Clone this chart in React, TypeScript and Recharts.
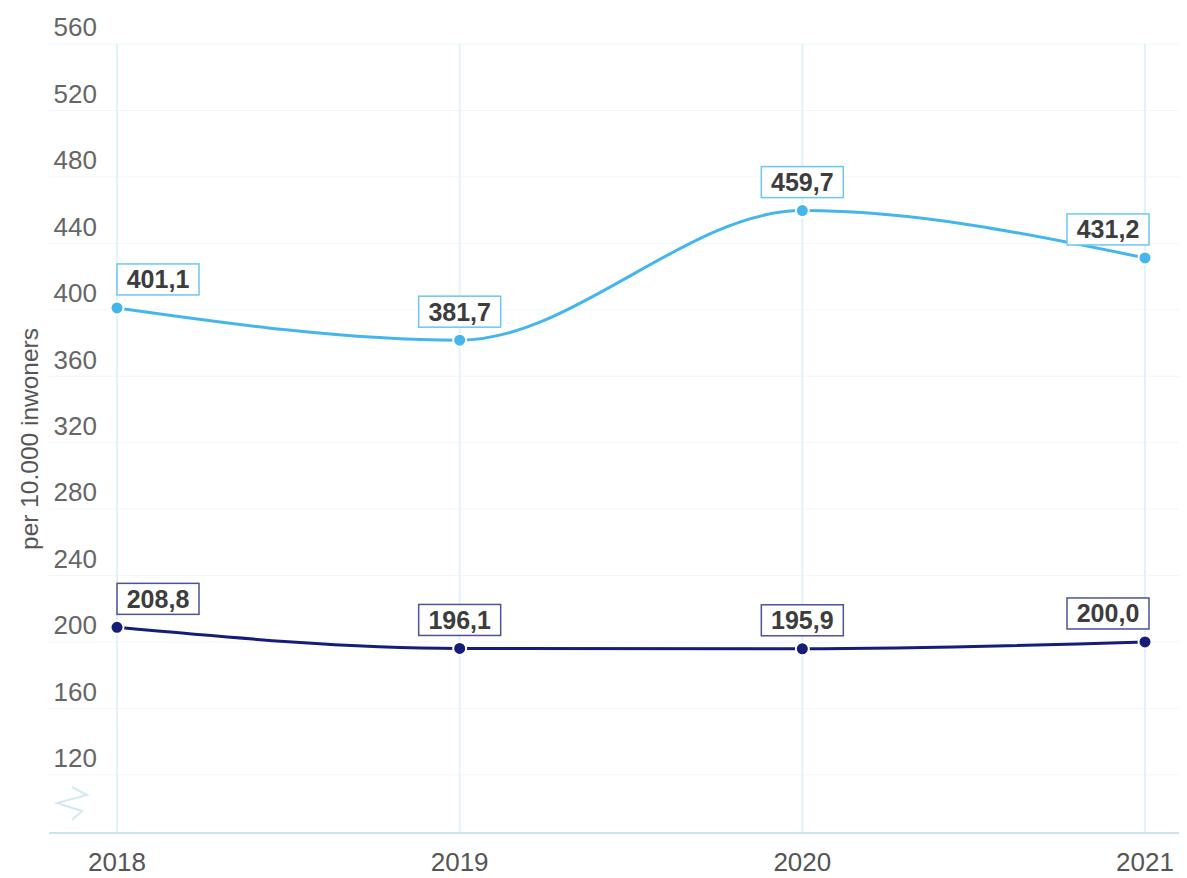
import React from "react";
import { LabelList, Line, LineChart, ReferenceLine, XAxis, YAxis } from "recharts";

const years = ["2018", "2019", "2020", "2021"];
const lightSeries = [401.1, 381.7, 459.7, 431.2];
const darkSeries = [208.8, 196.1, 195.9, 200.0];
const yTicks = [120, 160, 200, 240, 280, 320, 360, 400, 440, 480, 520, 560];

const LIGHT = "#45b6ec";
const DARK = "#161d78";
const FONT = "'Liberation Sans', Arial, sans-serif";

const data = years.map((year, i) => ({ year, light: lightSeries[i], dark: darkSeries[i] }));

const fmt = (v: number) => v.toFixed(1).replace(".", ",");

function YTick({ y, payload }: any) {
  return (
    <text x={97} y={y - 17} dy="0.36em" textAnchor="end" fontSize={26} fill="#666" fontFamily={FONT}>
      {payload.value}
    </text>
  );
}

function XTick({ x, payload }: any) {
  return (
    <text x={x} y={862} dy="0.36em" textAnchor="middle" fontSize={26} fill="#555" fontFamily={FONT}>
      {payload.value}
    </text>
  );
}

function makeLabel(color: string) {
  return function BoxLabel(props: any) {
    const { x, y, value, index } = props;
    const w = 82;
    const h = 31;
    let left = x - w / 2;
    if (index === 0) left = x;
    if (index === years.length - 1) left = x - w + 4;
    const top = y - 13 - h;
    return (
      <g>
        <rect x={left} y={top} width={w} height={h} fill="#fff" stroke={color} strokeWidth={1.5} />
        <text
          x={left + w / 2}
          y={top + h / 2}
          dy="0.36em"
          textAnchor="middle"
          fontSize={25}
          fontWeight="bold"
          fill="#3d3d3d"
          fontFamily={FONT}
        >
          {fmt(Number(value))}
        </text>
      </g>
    );
  };
}

function AxisTitle() {
  return (
    <text
      x={29}
      y={439}
      dy="0.36em"
      transform="rotate(-90 29 439)"
      textAnchor="middle"
      fontSize={24.5}
      fill="#555"
      fontFamily={FONT}
    >
      per 10.000 inwoners
    </text>
  );
}

export default function App() {
  return (
    <div style={{ position: "relative", margin: "-8px 0 0 -8px", width: 1187, height: 878, background: "#fff" }}>
      <LineChart width={1187} height={878} data={data} margin={{ top: 44, right: 2, bottom: 15, left: 0 }}>
        {yTicks.map((t) => (
          <ReferenceLine key={t} y={t} stroke="#f0f6f9" strokeWidth={1} />
        ))}
        {years.map((y) => (
          <ReferenceLine key={y} x={y} stroke="#e2f2fb" strokeWidth={2} />
        ))}
        <XAxis
          dataKey="year"
          height={30}
          padding={{ left: 68, right: 40 }}
          axisLine={{ stroke: "#cde2ea", strokeWidth: 2 }}
          tickLine={false}
          tick={<XTick />}
        />
        <YAxis
          width={49}
          domain={[85, 560]}
          ticks={yTicks}
          axisLine={false}
          tickLine={false}
          tick={<YTick />}
          label={<AxisTitle />}
        />
        <Line
          type="monotone"
          dataKey="light"
          stroke={LIGHT}
          strokeWidth={3}
          dot={{ r: 6.5, fill: LIGHT, stroke: "#fff", strokeWidth: 2 }}
          isAnimationActive={false}
        >
          <LabelList dataKey="light" content={makeLabel("#6cc6f2")} />
        </Line>
        <Line
          type="monotone"
          dataKey="dark"
          stroke={DARK}
          strokeWidth={3}
          dot={{ r: 6.5, fill: DARK, stroke: "#fff", strokeWidth: 2 }}
          isAnimationActive={false}
        >
          <LabelList dataKey="dark" content={makeLabel("#4c519a")} />
        </Line>
      </LineChart>
      <svg width={40} height={40} style={{ position: "absolute", left: 52, top: 784 }}>
        <polyline points="20,3 35,11 5,19 30,27 20,36" fill="none" stroke="#d3e9f2" strokeWidth={2} />
      </svg>
    </div>
  );
}
